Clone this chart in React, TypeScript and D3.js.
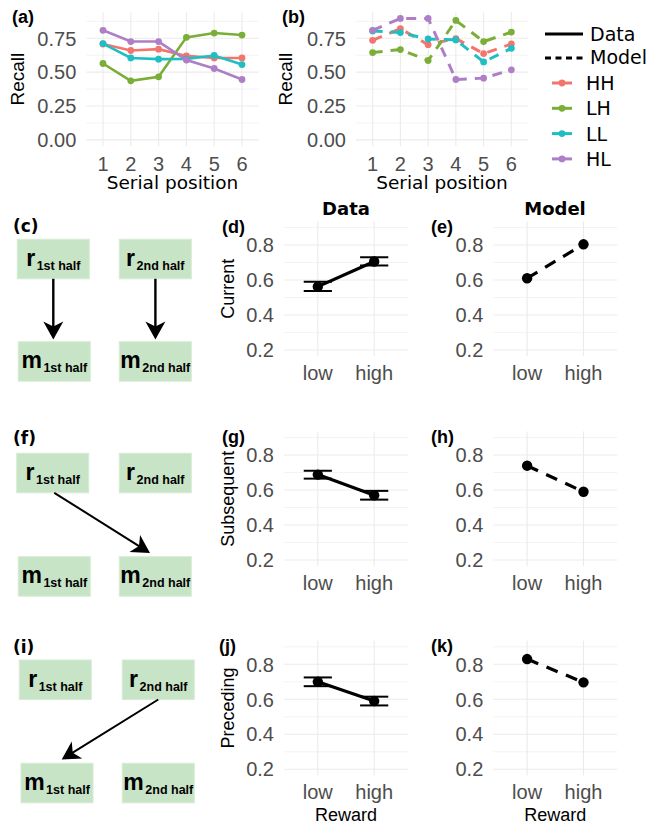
import React from "react";
import * as d3 from "d3";

// serial position curves, panels (a) and (b)
const positions = [1, 2, 3, 4, 5, 6];
const conditions = ["HH", "LH", "LL", "HL"];
const conditionColors = ["#F3766E", "#7BAE37", "#1FBEC3", "#AE7FC7"];

const dataHH = [0.708, 0.66, 0.67, 0.62, 0.605, 0.605];
const dataLH = [0.564, 0.436, 0.466, 0.757, 0.789, 0.774];
const dataLL = [0.711, 0.605, 0.596, 0.598, 0.623, 0.556];
const dataHL = [0.809, 0.726, 0.726, 0.59, 0.527, 0.446];

const modelHH = [0.735, 0.821, 0.703, 0.748, 0.637, 0.708];
const modelLH = [0.645, 0.667, 0.586, 0.882, 0.726, 0.796];
const modelLL = [0.804, 0.792, 0.745, 0.738, 0.576, 0.676];
const modelHL = [0.809, 0.897, 0.897, 0.446, 0.456, 0.517];

const recallTicks = [0, 0.25, 0.5, 0.75];
const recallMinor = [0.125, 0.375, 0.625, 0.875];

// reward effects, panels (d) to (k)
const rewardLevels = ["low", "high"];
const rewardTicks = [0.2, 0.4, 0.6, 0.8];
const rewardMinor = [0.3, 0.5, 0.7, 0.9];

const currentMean = [0.562, 0.706];
const currentLo = [0.537, 0.683];
const currentHi = [0.59, 0.73];
const currentModel = [0.61, 0.804];

const subsequentMean = [0.688, 0.57];
const subsequentLo = [0.665, 0.545];
const subsequentHi = [0.71, 0.595];
const subsequentModel = [0.739, 0.59];

const precedingMean = [0.7, 0.59];
const precedingLo = [0.675, 0.565];
const precedingHi = [0.725, 0.615];
const precedingModel = [0.83, 0.697];

const tickFont = "'Liberation Sans', Arial, sans-serif";
const textFont = "'DejaVu Sans', sans-serif";
const grid = "#EBEBEB";
const tickColor = "#4D4D4D";

type LineProps = {
  left: number;
  right: number;
  series: number[][];
  dashed: boolean;
  label: string;
  labelX: number;
  titleX: number;
};

const LinePanel = ({ left, right, series, dashed, label, labelX, titleX }: LineProps) => {
  const top = 12.3;
  const bottom = 146;
  const x = d3.scalePoint<number>().domain(positions).range([left, right]).padding(0.6);
  const y = d3.scaleLinear().domain([-0.045, 0.942]).range([bottom, top]);
  const line = d3
    .line<number>()
    .x((_, i) => x(positions[i])!)
    .y((d) => y(d));
  return (
    <g>
      {recallMinor.map((t) => (
        <line key={"m" + t} x1={left} x2={right} y1={y(t)} y2={y(t)} stroke={grid} strokeWidth={0.6} />
      ))}
      {recallTicks.map((t) => (
        <line key={"g" + t} x1={left} x2={right} y1={y(t)} y2={y(t)} stroke={grid} strokeWidth={1.1} />
      ))}
      {positions.map((p) => (
        <line key={"v" + p} x1={x(p)} x2={x(p)} y1={top} y2={bottom} stroke={grid} strokeWidth={1.1} />
      ))}
      {series.map((s, i) => (
        <g key={i}>
          <path
            d={line(s)!}
            fill="none"
            stroke={conditionColors[i]}
            strokeWidth={dashed ? 3 : 2.6}
            strokeDasharray={dashed ? "10,8" : undefined}
          />
          {s.map((v, j) => (
            <circle key={j} cx={x(positions[j])} cy={y(v)} r={3.4} fill={conditionColors[i]} />
          ))}
        </g>
      ))}
      {recallTicks.map((t) => (
        <text key={"t" + t} x={left - 10} y={y(t)} dy="0.36em" textAnchor="end" fontSize={20} fontFamily={tickFont} fill={tickColor}>
          {d3.format(".2f")(t)}
        </text>
      ))}
      {positions.map((p) => (
        <text key={"x" + p} x={x(p)} y={170.5} textAnchor="middle" fontSize={20} fontFamily={tickFont} fill={tickColor}>
          {p}
        </text>
      ))}
      <text x={(left + right) / 2} y={189} textAnchor="middle" fontSize={18.5} fontFamily={textFont} fill="#000">
        Serial position
      </text>
      <text transform={`translate(${titleX},${(top + bottom) / 2}) rotate(-90)`} dy="0.36em" textAnchor="middle" fontSize={19} fontFamily={tickFont} fill="#000">
        Recall
      </text>
      <text x={labelX} y={23} fontSize={18} fontWeight="bold" fontFamily={tickFont} fill="#000">
        {label}
      </text>
    </g>
  );
};

type RewardProps = {
  left: number;
  right: number;
  offset: number;
  values: number[];
  lo?: number[];
  hi?: number[];
  dashed: boolean;
  label: string;
  labelX: number;
  title?: string;
  xTitle: boolean;
};

const RewardPanel = ({ left, right, offset, values, lo, hi, dashed, label, labelX, title, xTitle }: RewardProps) => {
  const top = 221.4 + offset;
  const bottom = 356.1 + offset;
  const x = d3.scalePoint<string>().domain(rewardLevels).range([left, right]).padding(0.6);
  const y = d3.scaleLinear().domain([0.165, 0.935]).range([bottom, top]);
  const line = d3
    .line<number>()
    .x((_, i) => x(rewardLevels[i])!)
    .y((d) => y(d));
  const cap = x.step() * 0.25;
  return (
    <g>
      {rewardMinor.map((t) => (
        <line key={"m" + t} x1={left} x2={right} y1={y(t)} y2={y(t)} stroke={grid} strokeWidth={0.6} />
      ))}
      {rewardTicks.map((t) => (
        <line key={"g" + t} x1={left} x2={right} y1={y(t)} y2={y(t)} stroke={grid} strokeWidth={1.1} />
      ))}
      {rewardLevels.map((r) => (
        <line key={"v" + r} x1={x(r)} x2={x(r)} y1={top} y2={bottom} stroke={grid} strokeWidth={1.1} />
      ))}
      {lo &&
        hi &&
        rewardLevels.map((r, i) => (
          <g key={"e" + r} stroke="#000" strokeWidth={2}>
            <line x1={x(r)} x2={x(r)} y1={y(lo[i])} y2={y(hi[i])} />
            <line x1={x(r)! - cap} x2={x(r)! + cap} y1={y(lo[i])} y2={y(lo[i])} />
            <line x1={x(r)! - cap} x2={x(r)! + cap} y1={y(hi[i])} y2={y(hi[i])} />
          </g>
        ))}
      <path d={line(values)!} fill="none" stroke="#000" strokeWidth={3.2} strokeDasharray={dashed ? "12,9" : undefined} />
      {values.map((v, i) => (
        <circle key={i} cx={x(rewardLevels[i])} cy={y(v)} r={5.2} fill="#000" />
      ))}
      {rewardTicks.map((t) => (
        <text key={"t" + t} x={left - 10} y={y(t)} dy="0.36em" textAnchor="end" fontSize={20} fontFamily={tickFont} fill={tickColor}>
          {d3.format(".1f")(t)}
        </text>
      ))}
      {rewardLevels.map((r) => (
        <text key={"x" + r} x={x(r)} y={380 + offset} textAnchor="middle" fontSize={20} fontFamily={tickFont} fill={tickColor}>
          {r}
        </text>
      ))}
      {xTitle && (
        <text x={(left + right) / 2} y={821} textAnchor="middle" fontSize={18} fontFamily={tickFont} fill="#000">
          Reward
        </text>
      )}
      {title && (
        <text transform={`translate(228,${(top + bottom) / 2}) rotate(-90)`} dy="0.36em" textAnchor="middle" fontSize={18} fontFamily={tickFont} fill="#000">
          {title}
        </text>
      )}
      <text x={labelX} y={233 + offset} fontSize={18} fontWeight="bold" fontFamily={tickFont} fill="#000">
        {label}
      </text>
    </g>
  );
};

// schematic diagrams (c), (f), (i): box corners and arrow ends
type Diagram = {
  label: string;
  labelY: number;
  rTop: number;
  mTop: number;
  rx: number[];
  mx: number[];
  arrows: number[][];
};

const diagrams: Diagram[] = [
  { label: "(c)", labelY: 231.5, rTop: 239.3, mTop: 341.7, rx: [17.3, 119.3], mx: [18.3, 119.3], arrows: [[53.3, 278.8, 53.3, 339.5], [155.4, 278.8, 155.4, 339.5]] },
  { label: "(f)", labelY: 444, rTop: 453.3, mTop: 556.7, rx: [16.7, 119.3], mx: [18.3, 119.3], arrows: [[54.3, 492.8, 150, 553]] },
  { label: "(i)", labelY: 653, rTop: 660, mTop: 763.3, rx: [19.3, 122.3], mx: [21, 122.3], arrows: [[158.3, 699.5, 61.7, 759.5]] },
];

const boxW = 72;
const boxH = 39.5;

const Box = ({ x, y, letter, sub }: { x: number; y: number; letter: string; sub: string }) => (
  <g>
    <rect x={x} y={y} width={boxW} height={boxH} fill="#C8E4C6" stroke="#D6EBD4" strokeWidth={1} />
    <text x={x + boxW / 2} y={y + boxH / 2 + 7} textAnchor="middle" fontWeight="bold" fontFamily={tickFont} fill="#000">
      <tspan fontSize={23}>{letter}</tspan>
      <tspan fontSize={12.5} dx={1.5} dy={4}>
        {sub}
      </tspan>
    </text>
  </g>
);

const Arrow = ({ a }: { a: number[] }) => {
  const [x1, y1, x2, y2] = a;
  const ang = Math.atan2(y2 - y1, x2 - x1);
  const len = Math.hypot(x2 - x1, y2 - y1);
  const vertical = Math.abs(x2 - x1) < 1;
  return (
    <g transform={`translate(${x1},${y1}) rotate(${(ang * 180) / Math.PI})`}>
      <line x1={0} y1={0} x2={len - 12} y2={0} stroke="#000" strokeWidth={vertical ? 2.4 : 2} />
      <path d={`M${len},0 L${len - 18},-10 L${len - 13},0 L${len - 18},10 Z`} fill="#000" />
    </g>
  );
};

export default function App() {
  const dataSeries = [dataHH, dataLH, dataLL, dataHL];
  const modelSeries = [modelHH, modelLH, modelLL, modelHL];
  const rows = [
    { offset: 0, mean: currentMean, lo: currentLo, hi: currentHi, model: currentModel, title: "Current", labels: ["(d)", "(e)"] },
    { offset: 210, mean: subsequentMean, lo: subsequentLo, hi: subsequentHi, model: subsequentModel, title: "Subsequent", labels: ["(g)", "(h)"] },
    { offset: 419.3, mean: precedingMean, lo: precedingLo, hi: precedingHi, model: precedingModel, title: "Preceding", labels: ["(j)", "(k)"] },
  ];
  return (
    <svg width={652} height={826} style={{ position: "absolute", left: 0, top: 0, background: "#fff" }}>
      <LinePanel left={86.3} right={258.7} series={dataSeries} dashed={false} label="(a)" labelX={12} titleX={17} />
      <LinePanel left={356} right={528} series={modelSeries} dashed={true} label="(b)" labelX={282} titleX={285} />

      {/* legend */}
      <line x1={545} x2={583} y1={34} y2={34} stroke="#000" strokeWidth={3} />
      <text x={590} y={41} fontSize={19} fontFamily={textFont}>Data</text>
      <line x1={545} x2={583} y1={58} y2={58} stroke="#000" strokeWidth={3} strokeDasharray="6,4.5" />
      <text x={590} y={63.5} fontSize={19} fontFamily={textFont}>Model</text>
      {conditions.map((c, i) => (
        <g key={c}>
          <line x1={552} x2={572} y1={83 + i * 25.3} y2={83 + i * 25.3} stroke={conditionColors[i]} strokeWidth={3} />
          <circle cx={562} cy={83 + i * 25.3} r={3.4} fill={conditionColors[i]} />
          <text x={586} y={90 + i * 25.3} fontSize={19} fontFamily={textFont}>{c}</text>
        </g>
      ))}

      <text x={346} y={215} textAnchor="middle" fontSize={18} fontWeight="bold" fontFamily={textFont}>Data</text>
      <text x={555} y={215} textAnchor="middle" fontSize={18} fontWeight="bold" fontFamily={textFont}>Model</text>

      {rows.map((r, i) => (
        <g key={r.title}>
          <RewardPanel left={284} right={408} offset={r.offset} values={r.mean} lo={r.lo} hi={r.hi} dashed={false} label={r.labels[0]} labelX={i === 2 ? 219 : 222} title={r.title} xTitle={i === 2} />
          <RewardPanel left={493.3} right={617.3} offset={r.offset} values={r.model} dashed={true} label={r.labels[1]} labelX={431} xTitle={i === 2} />
        </g>
      ))}

      {diagrams.map((d) => (
        <g key={d.label}>
          <text x={13} y={d.labelY} fontSize={17} fontWeight="bold" fontFamily={textFont}>{d.label}</text>
          <Box x={d.rx[0]} y={d.rTop} letter="r" sub="1st half" />
          <Box x={d.rx[1]} y={d.rTop} letter="r" sub="2nd half" />
          <Box x={d.mx[0]} y={d.mTop} letter="m" sub="1st half" />
          <Box x={d.mx[1]} y={d.mTop} letter="m" sub="2nd half" />
          {d.arrows.map((a, k) => (
            <Arrow key={k} a={a} />
          ))}
        </g>
      ))}
    </svg>
  );
}
